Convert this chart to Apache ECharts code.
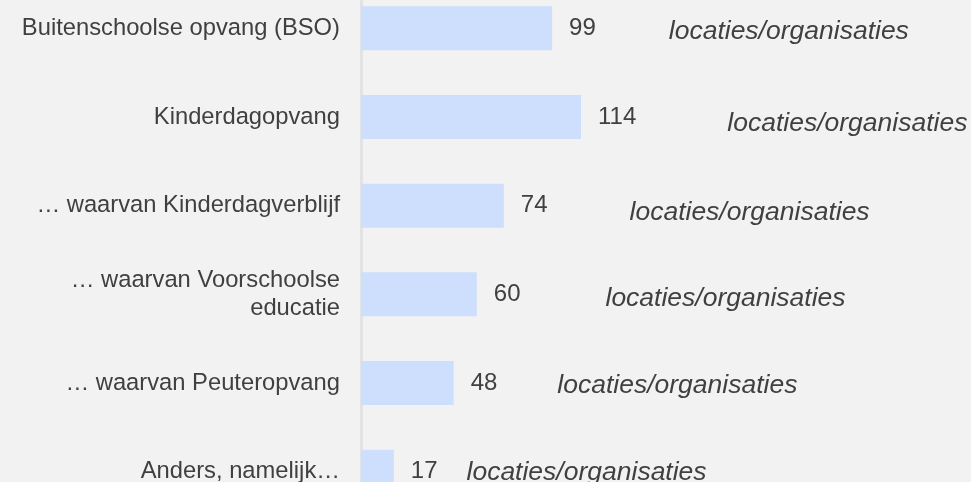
<!DOCTYPE html>
<html lang="nl">
<head>
    <meta charset="UTF-8">
    <title>Locaties per opvangsoort</title>
    <script src="https://cdn.jsdelivr.net/npm/echarts@6/dist/echarts.min.js"></script>
    <style type="text/css">
        html, body{
            margin: 0;
            padding: 0;
            width: 971px;
            height: 482px;
            overflow: hidden;
            background: #f2f2f2;
        }
        .chartData{
            position: absolute;
            left: 0;
            top: -16px;
            width: 971px;
            height: 532px;
        }
    </style>
</head>
<body>
<div class="chartData" id="chartData"></div>
<script type="text/javascript">
    // data
    var categories = [
        'Buitenschoolse opvang (BSO)',
        'Kinderdagopvang',
        '\u2026 waarvan Kinderdagverblijf',
        '\u2026 waarvan Voorschoolse\neducatie',
        '\u2026 waarvan Peuteropvang',
        'Anders, namelijk\u2026'
    ];
    var counts = [99, 114, 74, 60, 48, 17];
    var unitText = 'locaties/organisaties';

    // placement of the italic note behind each value (px)
    var noteGap = [73, 91, 82, 85, 60, 29];
    var noteDrop = [7, 14, 13, 8, 5, 2];

    var textColor = '#404040';
    var barColor = '#cddffc';
    var fontName = "'Liberation Sans', Arial, sans-serif";

    function buildData() {
        var result = [];
        for (var i = 0; i < counts.length; i++) {
            result.push({
                value: counts[i],
                label: {
                    show: true,
                    position: 'right',
                    distance: 17,
                    formatter: '{v|{c}}{t|' + unitText + '}',
                    rich: {
                        v: {
                            color: textColor,
                            fontSize: 24,
                            fontFamily: fontName
                        },
                        t: {
                            color: textColor,
                            fontSize: 26.5,
                            fontStyle: 'italic',
                            fontFamily: fontName,
                            padding: [noteDrop[i], 0, 0, noteGap[i]]
                        }
                    }
                }
            });
        }
        return result;
    }

    var myChart = echarts.init(document.getElementById('chartData'));
    var option = {
        backgroundColor: '#f2f2f2',
        animation: false,
        grid: {
            left: 361,
            right: 31,
            top: 0,
            bottom: 0
        },
        xAxis: {
            type: 'value',
            min: 0,
            max: 300,
            show: false
        },
        yAxis: {
            type: 'category',
            inverse: true,
            data: categories,
            axisLine: {
                show: true,
                lineStyle: { color: '#e3e3e3', width: 3 }
            },
            axisTick: { show: false },
            splitLine: { show: false },
            axisLabel: {
                margin: 21,
                color: textColor,
                fontSize: 23.75,
                lineHeight: 27.5,
                fontFamily: fontName
            }
        },
        series: [{
            type: 'bar',
            barWidth: 44,
            itemStyle: { color: barColor },
            data: buildData()
        }]
    };
    myChart.setOption(option);
</script>
</body>
</html>
